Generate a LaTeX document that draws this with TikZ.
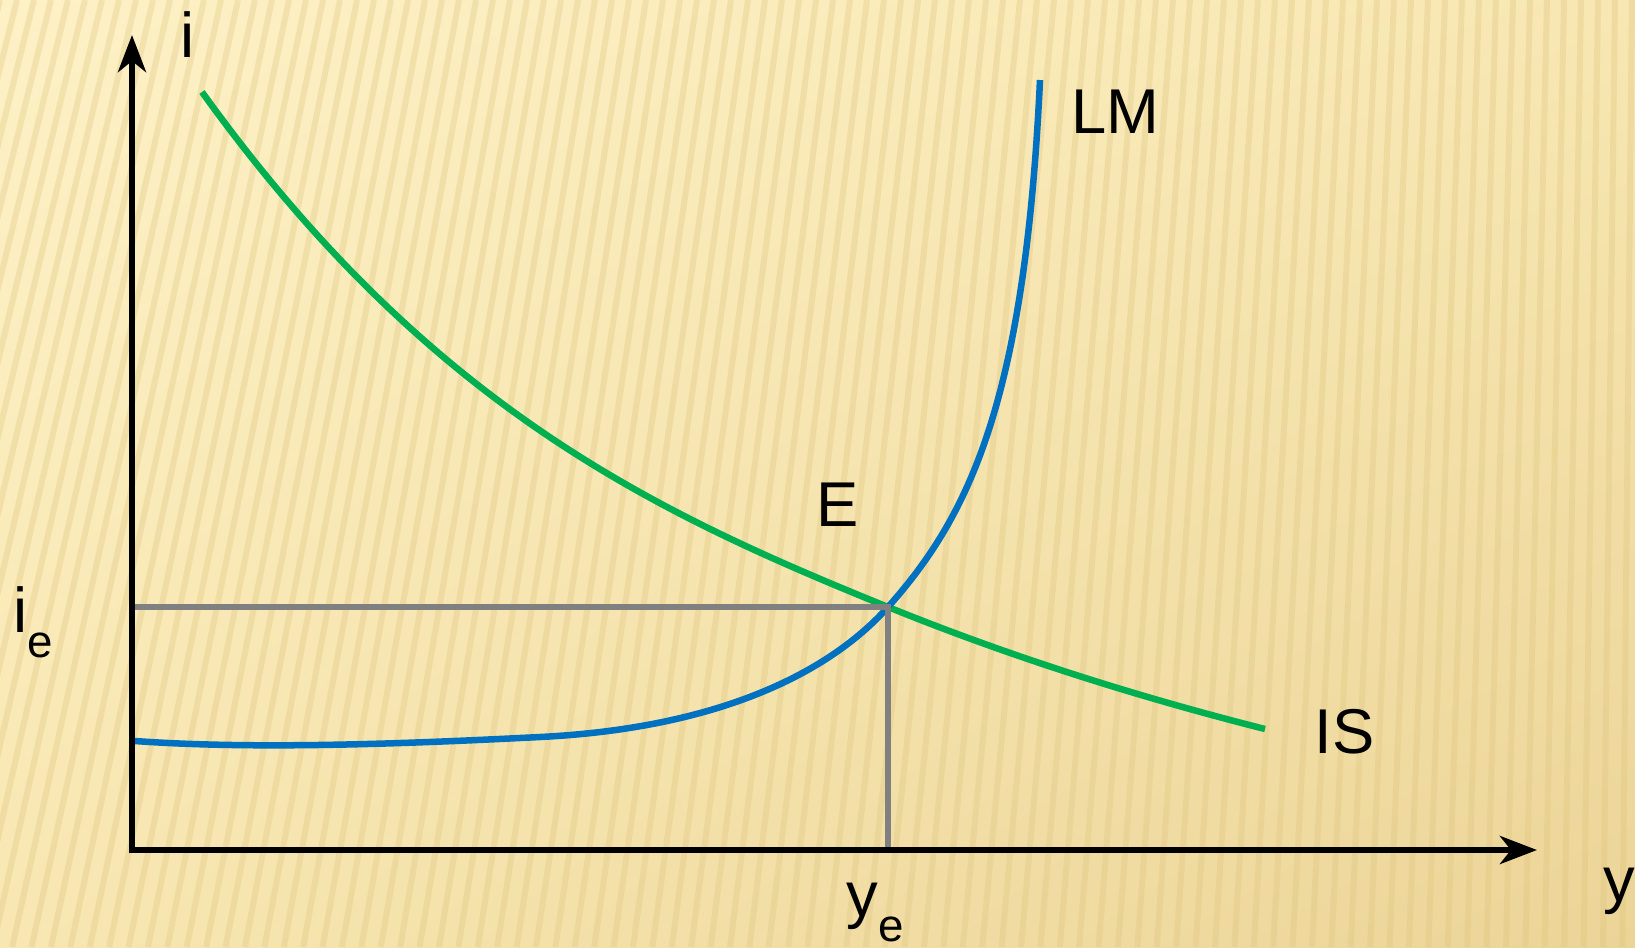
\documentclass[tikz,border=0pt]{standalone}
\usepackage{fontspec}
\setmainfont{Liberation Sans}
\usetikzlibrary{arrows.meta,shadings}
\definecolor{isgruen}{HTML}{00B050}
\definecolor{lmblau}{HTML}{0070C0}
\definecolor{hilfsgrau}{HTML}{808080}
\definecolor{hgHell}{HTML}{FDF1C6}
\definecolor{hgMitte}{HTML}{F8E7B2}
\definecolor{hgDunkel}{HTML}{EBD497}
\definecolor{streifen}{HTML}{DDC27A}
\newcommand{\tief}[1]{\raisebox{-0.4em}{\fontsize{13}{15}\selectfont #1}}

\begin{document}
\begin{tikzpicture}[x=0.01cm, y=-0.01cm,
    every node/.style={font=\fontsize{18}{22}\selectfont, inner sep=0pt},
    spitze/.tip={Stealth[length=0.37cm, width=0.28cm, inset=0.11cm]},
    achse/.style={line width=0.06cm, spitze-spitze},
    kurve/.style={line width=0.065cm},
    hilfslinie/.style={line width=0.055cm, hilfsgrau}]
    % Hintergrund
    \useasboundingbox (0,0) rectangle (1635,947);
    \shade[upper left=hgHell, upper right=hgMitte, lower left=hgMitte, lower right=hgDunkel] (0,0) rectangle (1635,947);
    \begin{scope}
        \clip (0,0) rectangle (1635,947);
        \foreach \k in {0,...,100}
            \draw[streifen, line width=0.06cm, opacity=0.3] ({17*\k},0) -- ({17*\k-240+2.4*\k},947);
    \end{scope}
    % Achsen und Gleichgewicht
    \coordinate (ursprung) at (132,850);
    \coordinate (ispitze) at (132,35);
    \coordinate (yspitze) at (1537,850);
    \coordinate (E) at (888,607);
    \coordinate (isanfang) at (202,92);
    \coordinate (isende) at (1265,729);
    \coordinate (lmanfang) at (135,741);
    \coordinate (lmknick) at (540,737);
    \coordinate (lmende) at (1040,80);
    % IS- und LM-Kurve
    \draw[kurve, isgruen] (isanfang) .. controls (431,410) and (659,514) .. (E)
        .. controls (1014,658) and (1139,697) .. (isende);
    \draw[kurve, lmblau] (lmanfang) .. controls (260,750) and (420,743) .. (lmknick)
        .. controls (720,728) and (830,672) .. (E)
        .. controls (970,515) and (1025,400) .. (lmende);
    \draw[hilfslinie] (E -| ursprung) -- (E) -- (E |- ursprung);
    \draw[achse] (ispitze) -- (ursprung) -- (yspitze);
    % Beschriftung
    \node[anchor=base] (ilabel) at (188,57) {i};
    \node[anchor=base west] (ylabel) at (1603,901) {y};
    \node[anchor=base west] (ielabel) at (13,632) {i\tief{e}};
    \node[anchor=base west] (yelabel) at (846,916) {y\tief{e}};
    \node[anchor=base] (Elabel) at (838,526) {E};
    \node[anchor=base west] (lmlabel) at (1071,133) {LM};
    \node[anchor=base west] (islabel) at (1314,753) {IS};
\end{tikzpicture}
\end{document}
